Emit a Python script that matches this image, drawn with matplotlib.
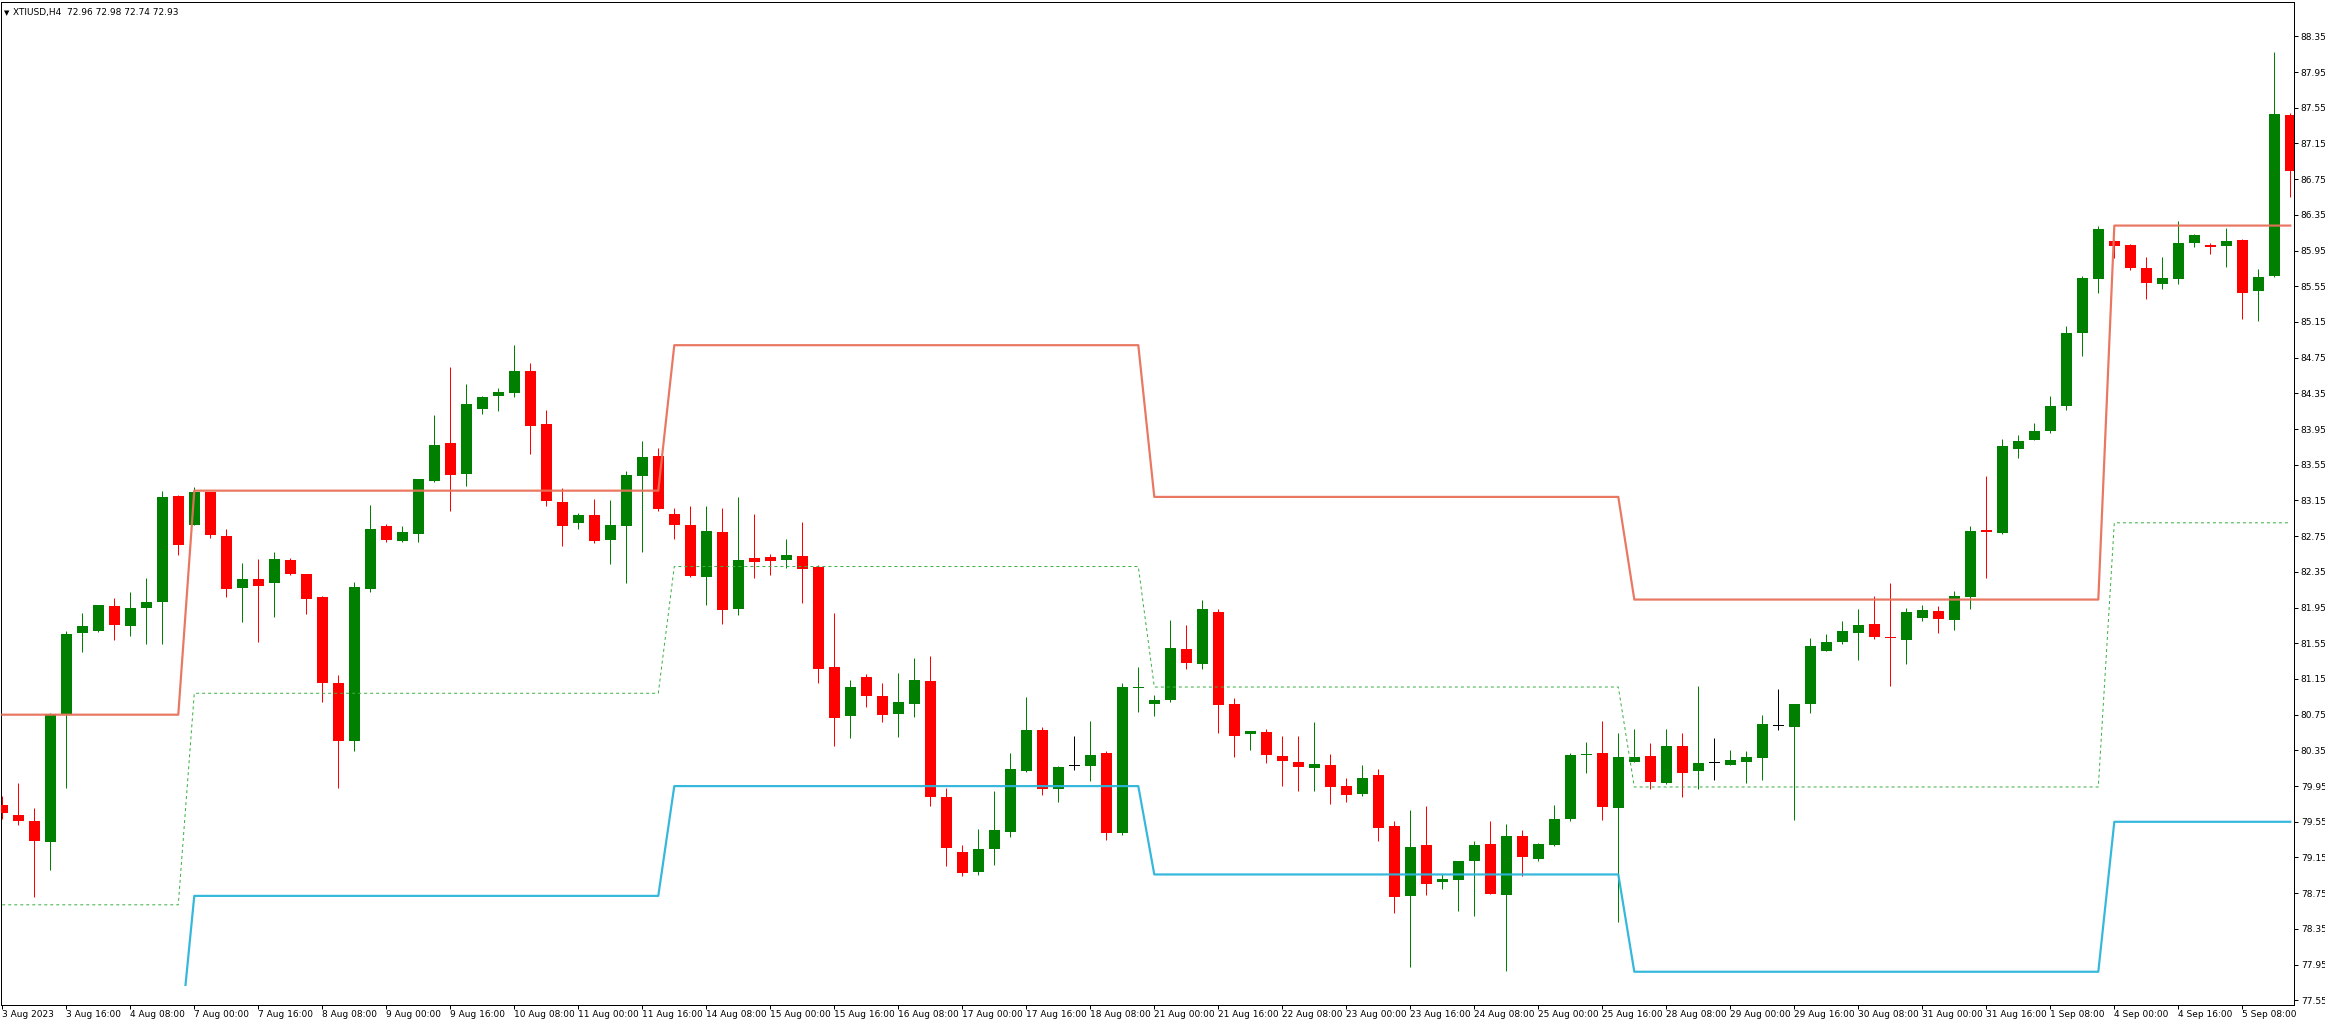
import matplotlib
matplotlib.use("Agg")
import matplotlib.pyplot as plt
from matplotlib.patches import Rectangle
import numpy as np

W, H, DPI = 2325, 1019, 100

# ---------------- data (XTIUSD H4) ----------------
opens = [79.74, 79.63, 79.56, 79.32, 80.76, 81.66, 81.69, 81.97, 81.74, 81.94,
         82.01, 83.20, 82.88, 83.24, 82.75, 82.17, 82.27, 82.22, 82.48, 82.33,
         82.07, 81.10, 80.45, 82.16, 82.86, 82.70, 82.78, 83.37, 83.79, 83.45,
         84.18, 84.32, 84.35, 84.60, 84.01, 83.13, 82.90, 82.99, 82.71, 82.86,
         83.42, 83.65, 83.00, 82.87, 82.29, 82.80, 81.93, 82.50, 82.52, 82.48,
         82.53, 82.41, 81.28, 80.73, 81.17, 80.96, 80.76, 80.87, 81.13, 79.83,
         79.21, 78.99, 79.24, 79.44, 80.12, 80.58, 79.92, 80.18, 80.18, 80.32,
         79.42, 81.05, 80.87, 80.91, 81.49, 81.32, 81.90, 80.87, 80.53, 80.56,
         80.29, 80.22, 80.15, 80.19, 79.95, 79.86, 80.07, 79.50, 78.72, 79.29,
         78.88, 78.90, 79.11, 79.30, 78.73, 79.39, 79.13, 79.29, 79.58, 80.30,
         80.32, 79.71, 80.22, 80.29, 79.99, 80.40, 80.12, 80.21, 80.19, 80.22,
         80.26, 80.63, 80.61, 80.87, 81.46, 81.56, 81.67, 81.77, 81.62, 81.59,
         81.83, 81.91, 81.81, 82.07, 82.82, 82.79, 83.73, 83.83, 83.93, 84.21,
         85.03, 85.63, 86.06, 86.01, 85.75, 85.58, 85.63, 86.03, 86.01, 86.00,
         86.07, 85.50, 85.67, 87.47]
highs = [79.84, 79.98, 79.71, 80.77, 81.69, 81.89, 81.98, 82.06, 82.12, 82.28,
         83.26, 83.21, 83.30, 83.25, 82.83, 82.45, 82.49, 82.57, 82.50, 82.33,
         82.08, 81.19, 82.24, 83.10, 82.89, 82.86, 83.39, 84.11, 84.65, 84.45,
         84.32, 84.41, 84.89, 84.69, 84.16, 83.29, 83.01, 83.17, 83.16, 83.48,
         83.82, 83.74, 83.07, 83.09, 83.09, 83.07, 83.19, 83.00, 82.55, 82.72,
         82.91, 82.43, 81.89, 81.14, 81.21, 81.10, 81.22, 81.39, 81.41, 79.93,
         79.29, 79.47, 79.90, 80.32, 80.95, 80.61, 80.18, 80.51, 80.68, 80.34,
         81.11, 81.28, 80.97, 81.81, 81.75, 82.04, 81.93, 80.94, 80.57, 80.59,
         80.51, 80.51, 80.67, 80.31, 80.04, 80.19, 80.14, 79.56, 79.68, 79.73,
         78.96, 79.11, 79.34, 79.56, 79.52, 79.46, 79.31, 79.74, 80.32, 80.44,
         80.68, 80.55, 80.59, 80.43, 80.59, 80.55, 81.07, 80.49, 80.35, 80.34,
         80.75, 81.04, 80.87, 81.61, 81.65, 81.80, 81.93, 82.08, 82.23, 81.94,
         81.98, 81.97, 82.14, 82.86, 83.42, 83.84, 83.88, 84.02, 84.32, 85.11,
         85.67, 86.22, 86.07, 86.02, 85.88, 85.88, 86.28, 86.14, 86.04, 86.20,
         86.08, 85.74, 88.17, 87.49]
lows = [79.58, 79.51, 78.71, 79.01, 79.93, 81.45, 81.68, 81.59, 81.63, 81.54,
        81.54, 82.54, 82.88, 82.73, 82.07, 81.79, 81.56, 81.85, 82.32, 81.88,
        80.89, 79.93, 80.34, 82.12, 82.68, 82.68, 82.68, 83.36, 83.03, 83.31,
        84.12, 84.15, 84.31, 83.67, 83.09, 82.64, 82.83, 82.67, 82.44, 82.23,
        82.57, 83.03, 82.72, 82.29, 81.98, 81.77, 81.87, 82.28, 82.32, 82.39,
        82.00, 81.11, 80.40, 80.49, 80.84, 80.67, 80.50, 80.72, 79.73, 79.05,
        78.94, 78.95, 79.07, 79.38, 80.11, 79.85, 79.77, 80.13, 80.01, 79.35,
        79.40, 80.78, 80.73, 80.89, 81.26, 81.26, 80.55, 80.28, 80.35, 80.21,
        79.95, 79.89, 79.90, 79.75, 79.77, 79.84, 79.34, 78.53, 77.92, 78.73,
        78.80, 78.55, 78.50, 78.74, 77.88, 78.94, 79.11, 79.28, 79.56, 80.10,
        79.57, 78.43, 80.22, 79.92, 79.97, 79.83, 79.92, 80.02, 80.19, 79.99,
        80.02, 80.58, 79.57, 80.77, 81.46, 81.54, 81.36, 81.60, 81.07, 81.32,
        81.80, 81.66, 81.70, 81.93, 82.28, 82.77, 83.63, 83.83, 83.91, 84.16,
        84.77, 85.47, 85.87, 85.73, 85.41, 85.52, 85.58, 85.99, 85.91, 85.77,
        85.18, 85.16, 85.65, 86.55]
closes = [79.65, 79.56, 79.33, 80.76, 81.65, 81.74, 81.98, 81.75, 81.94, 82.01,
          83.19, 82.65, 83.25, 82.76, 82.16, 82.27, 82.19, 82.49, 82.33, 82.05,
          81.11, 80.46, 82.18, 82.83, 82.71, 82.80, 83.39, 83.77, 83.44, 84.23,
          84.31, 84.37, 84.60, 83.99, 83.14, 82.86, 82.99, 82.70, 82.87, 83.44,
          83.64, 83.05, 82.88, 82.30, 82.81, 81.92, 82.48, 82.46, 82.47, 82.54,
          82.38, 81.26, 80.71, 81.06, 80.96, 80.75, 80.89, 81.14, 79.83, 79.26,
          78.98, 79.24, 79.46, 80.14, 80.58, 79.92, 80.16, 80.18, 80.30, 79.43,
          81.06, 81.06, 80.91, 81.50, 81.33, 81.93, 80.86, 80.51, 80.57, 80.30,
          80.23, 80.16, 80.20, 79.94, 79.85, 80.04, 79.48, 78.71, 79.27, 78.85,
          78.91, 79.11, 79.29, 78.74, 79.39, 79.15, 79.30, 79.58, 80.30, 80.31,
          79.72, 80.28, 80.28, 80.00, 80.40, 80.10, 80.21, 80.21, 80.24, 80.28,
          80.65, 80.63, 80.87, 81.52, 81.56, 81.69, 81.76, 81.62, 81.61, 81.90,
          81.92, 81.82, 82.08, 82.81, 82.80, 83.76, 83.82, 83.93, 84.21, 85.03,
          85.64, 86.19, 86.00, 85.75, 85.59, 85.64, 86.04, 86.12, 85.99, 86.06,
          85.48, 85.65, 87.48, 86.84]

# weekly indicator levels (step lines); each week = run of candles
week_lengths = [12, 30, 30, 30, 30, 12]
upper_levels = [80.75, 83.26, 84.89, 83.19, 82.04, 86.23]   # red
middle_levels = [78.62, 80.99, 82.41, 81.06, 79.94, 82.90]  # green dotted
lower_levels = [76.90, 78.72, 79.95, 78.96, 77.87, 79.55]   # blue
lower_start = 11
lower_visible_floor = 77.71

x_labels = ["3 Aug 2023", "3 Aug 16:00", "4 Aug 08:00", "7 Aug 00:00", "7 Aug 16:00",
            "8 Aug 08:00", "9 Aug 00:00", "9 Aug 16:00", "10 Aug 08:00", "11 Aug 00:00",
            "11 Aug 16:00", "14 Aug 08:00", "15 Aug 00:00", "15 Aug 16:00", "16 Aug 08:00",
            "17 Aug 00:00", "17 Aug 16:00", "18 Aug 08:00", "21 Aug 00:00", "21 Aug 16:00",
            "22 Aug 08:00", "23 Aug 00:00", "23 Aug 16:00", "24 Aug 08:00", "25 Aug 00:00",
            "25 Aug 16:00", "28 Aug 08:00", "29 Aug 00:00", "29 Aug 16:00", "30 Aug 08:00",
            "31 Aug 00:00", "31 Aug 16:00", "1 Sep 08:00", "4 Sep 00:00", "4 Sep 16:00",
            "5 Sep 08:00"]
label_every = 4

y_ticks = [77.55, 77.95, 78.35, 78.75, 79.15, 79.55, 79.95, 80.35, 80.75, 81.15,
           81.55, 81.95, 82.35, 82.75, 83.15, 83.55, 83.95, 84.35, 84.75, 85.15,
           85.55, 85.95, 86.35, 86.75, 87.15, 87.55, 87.95, 88.35]

header = "XTIUSD,H4  72.96 72.98 72.74 72.93"

# ---------------- figure ----------------
PX = 72.0 / DPI  # one pixel in points
fig = plt.figure(figsize=(W / DPI, H / DPI), dpi=DPI)
fig.patch.set_facecolor("white")
left_px, right_px, top_px, bot_px = 1, 2294, 2, 1004.5
ax = fig.add_axes([left_px / W, (H - bot_px) / H, (right_px - left_px) / W, (bot_px - top_px) / H])
ax.set_facecolor("white")

o = np.array(opens); h = np.array(highs); l = np.array(lows); c = np.array(closes)
idx = np.arange(len(o))
cols = np.where(c > o, "#008000", np.where(c < o, "#FF0000", "#000000"))

ax.vlines(idx, l, h, colors=cols, linewidth=1.0 * PX, zorder=2)
min_h = 0.011
body_h = np.maximum(np.abs(c - o), min_h)
body_b = np.where(np.abs(c - o) < min_h, (o + c) / 2 - min_h / 2, np.minimum(o, c))
ax.bar(idx, body_h, bottom=body_b, width=11 / 16, color=cols, edgecolor=cols,
       linewidth=0, zorder=3)

upper = np.repeat(upper_levels, week_lengths)
middle = np.repeat(middle_levels, week_lengths)
lower = np.repeat(lower_levels, week_lengths).astype(float)
lower[:lower_start] = np.nan

ax.set_ylim(77.503, 88.735)
ax.set_xlim(-0.08, 143.23)

ax.plot(idx, middle, color="#3CB043", linewidth=1.0 * PX, dashes=(3, 3), zorder=4)
ax.plot(idx, upper, color="#E8705A", linewidth=2.2 * PX, zorder=4, alpha=0.95)
blue_line, = ax.plot(idx, lower, color="#2AB4DA", linewidth=2.2 * PX, zorder=4, alpha=0.95)
clip = Rectangle((-1, lower_visible_floor), 200, 20, transform=ax.transData)
blue_line.set_clip_path(clip)

ax.yaxis.tick_right()
ax.set_yticks(y_ticks)
ax.set_yticklabels([f"{v:.2f}" for v in y_ticks])
ax.tick_params(axis="y", direction="out", length=4 * PX, width=1 * PX, pad=2,
               labelsize=6.5, colors="black")

xt = np.arange(len(x_labels)) * label_every
ax.set_xticks(xt)
ax.set_xticklabels(x_labels)
ax.tick_params(axis="x", direction="out", length=4 * PX, width=1 * PX, pad=1,
               labelsize=6.5, colors="black")
for t in ax.get_xticklabels():
    t.set_ha("left")

for s in ax.spines.values():
    s.set_linewidth(1 * PX)
    s.set_color("black")

fig.text(4 / W, 1 - 13 / H, "\u25BC", fontsize=5, va="center", ha="left")
fig.text(13 / W, 1 - 13 / H, header, fontsize=6.5, va="center", ha="left")

fig.savefig("out.png", dpi=DPI, facecolor="white")
